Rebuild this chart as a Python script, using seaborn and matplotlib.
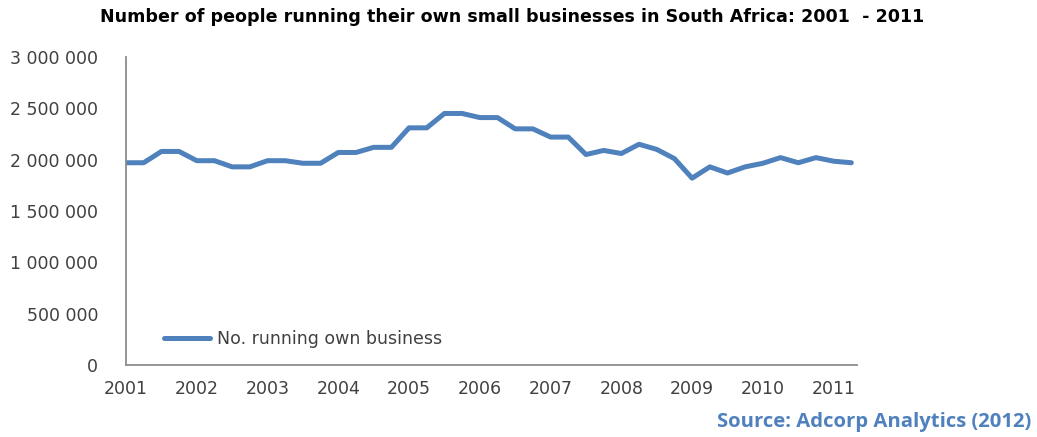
import matplotlib
matplotlib.use("Agg")
import matplotlib.pyplot as plt
import seaborn as sns
import pandas as pd
from matplotlib.ticker import FuncFormatter

# ---- data ----
years = list(range(2001, 2012))
quarters = [f"{y}Q{q}" for y in years for q in range(1, 5)][:42]   # 2001Q1 .. 2011Q2
running_own_business = [
    1970000, 1970000, 2080000, 2080000, 1990000, 1990000, 1930000, 1930000,
    1990000, 1990000, 1965000, 1965000, 2070000, 2070000, 2120000, 2120000,
    2310000, 2310000, 2450000, 2450000, 2410000, 2410000, 2300000, 2300000,
    2220000, 2220000, 2050000, 2090000, 2060000, 2150000, 2100000, 2010000,
    1820000, 1930000, 1870000, 1930000, 1965000, 2020000, 1970000, 2020000,
    1985000, 1970000,
]
y_ticks = [0, 500000, 1000000, 1500000, 2000000, 2500000, 3000000]
series_name = "No. running own business"
title = "Number of people running their own small businesses in South Africa: 2001  - 2011"
source = "Source: Adcorp Analytics (2012)"

df = pd.DataFrame({
    "quarter": quarters,
    "value": running_own_business,
})
df["t"] = [int(q[:4]) + (int(q[-1]) - 1) / 4 for q in quarters]
df["series"] = series_name

sns.set_style("white")
plt.rcParams["font.family"] = ["DejaVu Sans"]

fig = plt.figure(figsize=(10.37, 4.37), dpi=100)
ax = fig.add_axes([126 / 1037, 1 - 365 / 437, (857 - 126) / 1037, (365 - 57) / 437])

sns.lineplot(data=df, x="t", y="value", hue="series", palette=["#4F81BD"],
             linewidth=3.6, ax=ax)

ax.set_xlim(2001, 2011.33)
ax.set_ylim(0, 3000000)
ax.set_xticks(years)
ax.set_xticklabels([str(y) for y in years])
ax.set_yticks(y_ticks)
ax.yaxis.set_major_formatter(FuncFormatter(lambda v, p: f"{int(v):,}".replace(",", " ")))
ax.set_xlabel("")
ax.set_ylabel("")

for s in ["top", "right"]:
    ax.spines[s].set_visible(False)
for s in ["left", "bottom"]:
    ax.spines[s].set_color("#8C8C8C")
    ax.spines[s].set_linewidth(1.3)
ax.tick_params(axis="both", which="major", direction="out", length=6, width=1.3,
               color="#8C8C8C", labelcolor="#404040", labelsize=12.5)
ax.tick_params(axis="x", pad=5)
ax.tick_params(axis="y", pad=14)

leg = ax.legend(loc="center left", bbox_to_anchor=(0.03, 0.085), frameon=False,
                fontsize=12.5, handlelength=2.7, handletextpad=0.35)
for t in leg.get_texts():
    t.set_color("#404040")

fig.text(0.494, 0.962, title, ha="center", va="center", fontsize=12.6,
         fontweight="bold", color="black",
         family=["Liberation Sans Narrow", "DejaVu Sans"])
fig.text(0.994, 0.035, source, ha="right", va="center", fontsize=14.6,
         fontweight="bold", color="#4F81BD", family=["Open Sans", "DejaVu Sans"])

fig.savefig("out.png", dpi=100)
